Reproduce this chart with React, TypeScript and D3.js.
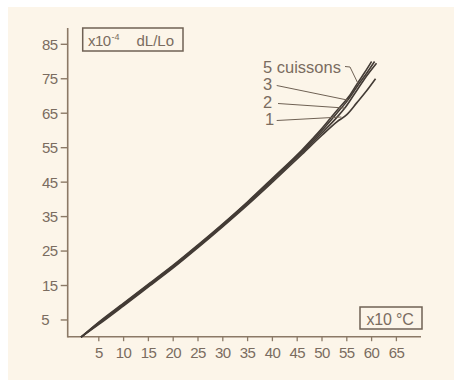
import * as d3 from "d3";

// Dilatation curves (x10 °C, x10^-4 dL/Lo), one array per number of firings
const curve1: [number, number][] = [
  [1.4, 0], [5, 3.7], [10, 9.1], [15, 14.6], [20, 20.1], [25, 26], [30, 32.1],
  [35, 38.4], [40, 45], [46, 53.1], [50, 58.6], [53, 62.5], [55, 64.6],
  [57, 68], [59, 71.5], [60.8, 75],
];
const curve2: [number, number][] = [
  [1.4, 0], [5, 4], [10, 9.4], [15, 14.9], [20, 20.4], [25, 26.3], [30, 32.4],
  [35, 38.8], [40, 45.5], [46, 53.6], [50, 59.3], [53, 63.8], [54.6, 66.5],
  [56.5, 70.5], [58.5, 74.8], [61, 79.5],
];
const curve3: [number, number][] = [
  [1.4, 0], [5, 4.2], [10, 9.7], [15, 15.2], [20, 20.7], [25, 26.6], [30, 32.7],
  [35, 39.1], [40, 45.8], [46, 54], [50, 60], [53, 65], [55.2, 68.8],
  [57, 72.6], [59, 76.6], [60.6, 80],
];
const curve5: [number, number][] = [
  [1.4, 0], [5, 4.4], [10, 9.9], [15, 15.4], [20, 20.9], [25, 26.8], [30, 32.9],
  [35, 39.3], [40, 46.1], [46, 54.4], [50, 60.6], [53, 65.8], [55.5, 70],
  [57.2, 73.8], [58.6, 76.8], [60, 80],
];
const curves = [curve1, curve2, curve3, curve5];

// labels with the point where each leader touches its curve
const labelNames = ["5 cuissons", "3", "2", "1"];
const labelAnchors: [number, number][] = [
  [57.2, 73.8], [55.2, 68.8], [54.6, 66.5], [53.9, 63.9],
];

const xTicks = [5, 10, 15, 20, 25, 30, 35, 40, 45, 50, 55, 60, 65];
const yTicks = [5, 15, 25, 35, 45, 55, 65, 75, 85];

const axisColor = "#8b7966";
const textColor = "#7a6c60";
const lineColor = "#433b35";
const font = "'Liberation Sans', Arial, sans-serif";

export default function App() {
  const width = 454;
  const height = 380;

  const x = d3.scaleLinear().domain([0, 65]).range([74, 396.4]);
  const y = d3.scaleLinear().domain([0, 85]).range([337.2, 44.3]);

  const axisLeft = 67.7;
  const axisBottom = y(0) - 0.5;

  const line = d3
    .line<[number, number]>()
    .x(d => x(d[0]))
    .y(d => y(d[1]))
    .curve(d3.curveMonotoneX);

  // label positions (text baselines)
  const labelX = 263;
  const labelY = [73, 90, 108, 125];
  const labelEndX = [345, 276.7, 278, 276.7];

  return (
    <svg
      width={width}
      height={height}
      style={{ position: "absolute", left: 0, top: 0 }}
      fontFamily={font}
    >
      <rect x={0} y={0} width={width} height={height} fill="#ffffff" />
      <rect x={8} y={7} width={width - 8} height={height - 7} fill="#fcf5e9" />

      {/* axes */}
      <line x1={axisLeft} x2={axisLeft} y1={28} y2={axisBottom + 0.75} stroke={axisColor} strokeWidth={1.6} />
      <line x1={axisLeft} x2={421} y1={axisBottom} y2={axisBottom} stroke={axisColor} strokeWidth={1.6} />

      {yTicks.map(t => (
        <g key={t}>
          <line x1={axisLeft - 7} x2={axisLeft} y1={y(t)} y2={y(t)} stroke={axisColor} strokeWidth={1.4} />
          <text
            x={t < 10 ? 49 : 57.5}
            y={y(t)}
            dy="0.36em"
            textAnchor="end"
            fontSize={15}
            letterSpacing={-0.6}
            fill={textColor}
          >
            {t}
          </text>
        </g>
      ))}

      {xTicks.map(t => (
        <g key={t}>
          <line x1={x(t)} x2={x(t)} y1={axisBottom} y2={axisBottom + 4.5} stroke={axisColor} strokeWidth={1.3} />
          <text
            x={x(t)}
            y={357.5}
            textAnchor="middle"
            fontSize={15}
            letterSpacing={-0.6}
            fill={textColor}
          >
            {t}
          </text>
        </g>
      ))}

      {/* unit boxes */}
      <rect x={82.7} y={28} width={100.3} height={23} fill="none" stroke="#6f6154" strokeWidth={1.5} />
      <text x={88} y={45.5} fontSize={15} letterSpacing={-0.6} fill={textColor}>
        x10
        <tspan x={111.5} fontSize={9} letterSpacing={0} dy={-6}>-4</tspan>
        <tspan x={136.5} dy={6} letterSpacing={0}>dL/Lo</tspan>
      </text>

      <rect x={360} y={307} width={62} height={22} fill="none" stroke="#6f6154" strokeWidth={1.5} />
      <text x={366.5} y={324.5} fontSize={16} letterSpacing={-0.2} fill={textColor}>
        x10 °C
      </text>

      {/* curves */}
      {curves.map((c, i) => (
        <path key={i} d={line(c) ?? ""} fill="none" stroke={lineColor} strokeWidth={1.6} />
      ))}

      {/* curve labels and leaders */}
      {labelNames.map((name, i) => {
        const [ax, ay] = labelAnchors[i];
        const ex = x(ax);
        const ey = y(ay);
        const sy = labelY[i] - 4.5;
        const d =
          i === 0
            ? `M${labelEndX[i]},${sy - 2} L${labelEndX[i] + 5},${sy - 1.5} L${ex},${ey}`
            : `M${labelEndX[i]},${sy} L${ex},${ey}`;
        return (
          <g key={name}>
            <text x={i === 3 ? labelX + 2 : labelX} y={labelY[i]} fontSize={16.5} fill={textColor}>
              {name}
            </text>
            <path d={d} fill="none" stroke="#6f6154" strokeWidth={1} />
          </g>
        );
      })}
    </svg>
  );
}
